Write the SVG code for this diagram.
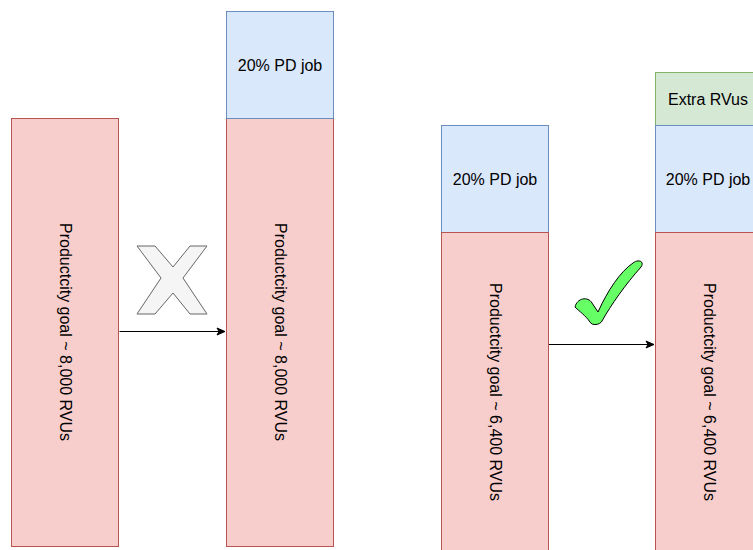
<svg xmlns="http://www.w3.org/2000/svg" width="753" height="550" viewBox="0 0 753 550">
  <style>
    .red { fill: #f8cecc; stroke: #b85450; stroke-width: 1; }
    .blue { fill: #dae8fc; stroke: #6c8ebf; stroke-width: 1; }
    .green { fill: #d5e8d4; stroke: #82b366; stroke-width: 1; }
    text { font-family: "Liberation Sans", Arial, Helvetica, sans-serif; font-size: 16px; fill: #000; }
    .edge { stroke: #000; stroke-width: 1; fill: none; }
  </style>
  <defs>
    <marker id="arrow" markerWidth="10" markerHeight="10" refX="9" refY="5" orient="auto" markerUnits="userSpaceOnUse">
      <path d="M1,1.5 L9,5 L1,8.5 L3,5 Z" fill="#000" stroke="#000" stroke-width="1"/>
    </marker>
  </defs>
  <rect width="753" height="550" fill="#ffffff"/>

  <g id="connectors">
    <line class="edge" x1="119.5" y1="331.5" x2="225" y2="331.5" marker-end="url(#arrow)"/>
    <line class="edge" x1="548.5" y1="344.5" x2="654" y2="344.5" marker-end="url(#arrow)"/>
  </g>

  <!-- left: 8,000 RVU goal alone -->
  <g id="goal-8000-a">
    <rect class="red" x="11.5" y="118.5" width="107" height="428"/>
    <text transform="translate(65,332) rotate(90)" text-anchor="middle" dominant-baseline="central">Productcity goal ~ 8,000 RVUs</text>
  </g>

  <g id="goal-8000-b">
    <rect class="red" x="226.5" y="118.5" width="107" height="428"/>
    <text transform="translate(280,332) rotate(90)" text-anchor="middle" dominant-baseline="central">Productcity goal ~ 8,000 RVUs</text>
  </g>
  <g id="pd-job-b">
    <rect class="blue" x="226.5" y="11.5" width="107" height="107"/>
    <text x="280" y="65" text-anchor="middle" dominant-baseline="central">20% PD job</text>
  </g>

  <!-- cross mark -->
  <g id="cross">
    <path d="M137,246 L155,246 L173,267 L190,246 L207,246 L183,278 L207,314 L190,314 L173,293 L155,314 L137,314 L161,278 Z" fill="#f5f5f5" stroke="#666666" stroke-width="1" stroke-linejoin="round"/>
  </g>

  <!-- right: 6,400 RVU goal -->
  <g id="pd-job-c">
    <rect class="blue" x="441.5" y="125.5" width="107" height="107"/>
    <text x="495" y="179" text-anchor="middle" dominant-baseline="central">20% PD job</text>
  </g>
  <g id="goal-6400-c">
    <rect class="red" x="441.5" y="232.5" width="107" height="320"/>
    <text transform="translate(495,392) rotate(90)" text-anchor="middle" dominant-baseline="central">Productcity goal ~ 6,400 RVUs</text>
  </g>

  <g id="extra-rvus-d">
    <rect class="green" x="655.5" y="72.5" width="107" height="53"/>
    <text x="708" y="99" text-anchor="middle" dominant-baseline="central">Extra RVus</text>
  </g>
  <g id="pd-job-d">
    <rect class="blue" x="655.5" y="125.5" width="107" height="107"/>
    <text x="708" y="179" text-anchor="middle" dominant-baseline="central">20% PD job</text>
  </g>
  <g id="goal-6400-d">
    <rect class="red" x="655.5" y="232.5" width="107" height="320"/>
    <text transform="translate(709,392) rotate(90)" text-anchor="middle" dominant-baseline="central">Productcity goal ~ 6,400 RVUs</text>
  </g>

  <!-- check mark -->
  <g id="check">
    <path d="M575,307 C577,298 588,296 592,303 L598,312 C608,290 620,272 633,263 C638,259 645,261 641,267 C625,285 611,305 602,321 C600,325 592,326 590,322 C585,315 580,312 575,307 Z" fill="#66ff66" stroke="#000000" stroke-width="1" stroke-linejoin="round"/>
  </g>
</svg>
